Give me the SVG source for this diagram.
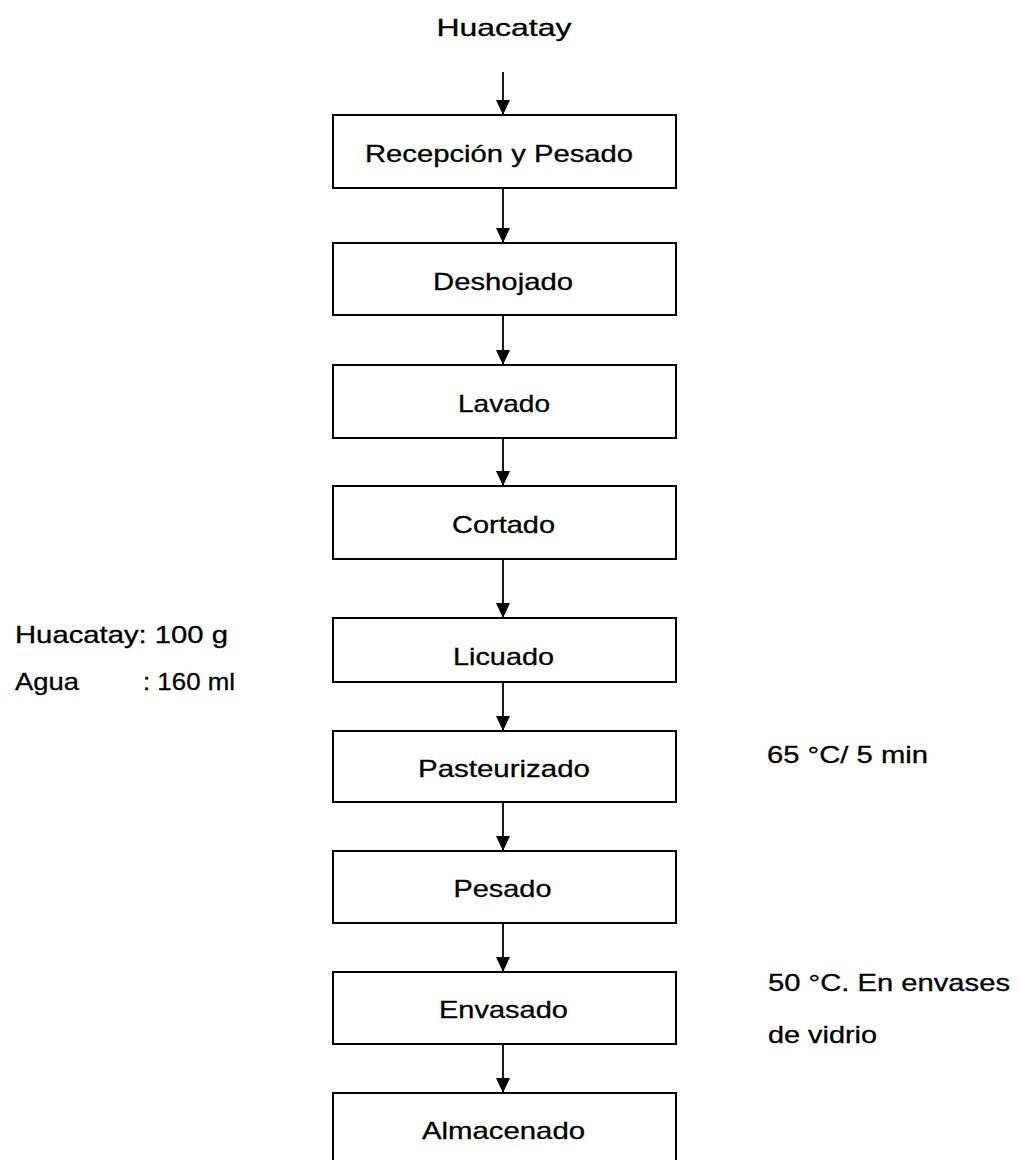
<svg xmlns="http://www.w3.org/2000/svg" width="1019" height="1160" viewBox="0 0 1019 1160">
<style>
text{font-family:"Liberation Sans",Arial,sans-serif;font-size:24px;fill:#000;stroke:#000;stroke-width:0.3}
.c{text-anchor:middle}
.box{fill:#fff;stroke:#000;stroke-width:2}
.arr{stroke:#000;stroke-width:1.8;fill:none;marker-end:url(#ah)}
</style>
<defs>
<marker id="ah" markerUnits="userSpaceOnUse" markerWidth="16" markerHeight="16" refX="15" refY="7" orient="auto">
<path d="M0,0 L15,7 L0,14 Z" fill="#000"/>
</marker>
</defs>
<rect width="1019" height="1160" fill="#fff"/>
<g id="connectors">
<line class="arr" x1="503" y1="72" x2="503" y2="115"/>
<line class="arr" x1="503" y1="189" x2="503" y2="243"/>
<line class="arr" x1="503" y1="316" x2="503" y2="365"/>
<line class="arr" x1="503" y1="439" x2="503" y2="486"/>
<line class="arr" x1="503" y1="560" x2="503" y2="618"/>
<line class="arr" x1="503" y1="683" x2="503" y2="731"/>
<line class="arr" x1="503" y1="803" x2="503" y2="851"/>
<line class="arr" x1="503" y1="924" x2="503" y2="972"/>
<line class="arr" x1="503" y1="1045" x2="503" y2="1093"/>
</g>
<g id="title"><text class="c" x="504" y="36" textLength="135" lengthAdjust="spacingAndGlyphs">Huacatay</text></g>
<g id="n1"><rect class="box" x="333" y="115" width="343" height="73"/><text class="c" x="499" y="162" textLength="268" lengthAdjust="spacingAndGlyphs">Recepción  y Pesado</text></g>
<g id="n2"><rect class="box" x="333" y="243" width="343" height="72"/><text class="c" x="503" y="290" textLength="140" lengthAdjust="spacingAndGlyphs">Deshojado</text></g>
<g id="n3"><rect class="box" x="333" y="365" width="343" height="73"/><text class="c" x="504" y="412" textLength="92" lengthAdjust="spacingAndGlyphs">Lavado</text></g>
<g id="n4"><rect class="box" x="333" y="486" width="343" height="73"/><text class="c" x="503.5" y="533" textLength="103" lengthAdjust="spacingAndGlyphs">Cortado</text></g>
<g id="n5"><rect class="box" x="333" y="618" width="343" height="64"/><text class="c" x="503.5" y="665" textLength="101" lengthAdjust="spacingAndGlyphs">Licuado</text></g>
<g id="n6"><rect class="box" x="333" y="731" width="343" height="71"/><text class="c" x="504" y="777" textLength="172" lengthAdjust="spacingAndGlyphs">Pasteurizado</text></g>
<g id="n7"><rect class="box" x="333" y="851" width="343" height="72"/><text class="c" x="502.5" y="897" textLength="98" lengthAdjust="spacingAndGlyphs">Pesado</text></g>
<g id="n8"><rect class="box" x="333" y="972" width="343" height="72"/><text class="c" x="503.5" y="1018" textLength="129" lengthAdjust="spacingAndGlyphs">Envasado</text></g>
<g id="n9"><rect class="box" x="333" y="1093" width="343" height="72"/><text class="c" x="503.5" y="1139" textLength="163" lengthAdjust="spacingAndGlyphs">Almacenado</text></g>
<g id="note-licuado">
<text x="15" y="643" textLength="213" lengthAdjust="spacingAndGlyphs">Huacatay: 100 g</text>
<text x="15" y="690" textLength="64" lengthAdjust="spacingAndGlyphs">Agua</text>
<text x="143" y="690" textLength="92" lengthAdjust="spacingAndGlyphs">: 160 ml</text>
</g>
<g id="note-pasteurizado"><text x="767" y="763" textLength="161" lengthAdjust="spacingAndGlyphs">65 °C/ 5 min</text></g>
<g id="note-envasado">
<text x="768" y="991" textLength="242" lengthAdjust="spacingAndGlyphs">50 °C. En envases</text>
<text x="768" y="1043" textLength="109" lengthAdjust="spacingAndGlyphs">de vidrio</text>
</g>
</svg>
